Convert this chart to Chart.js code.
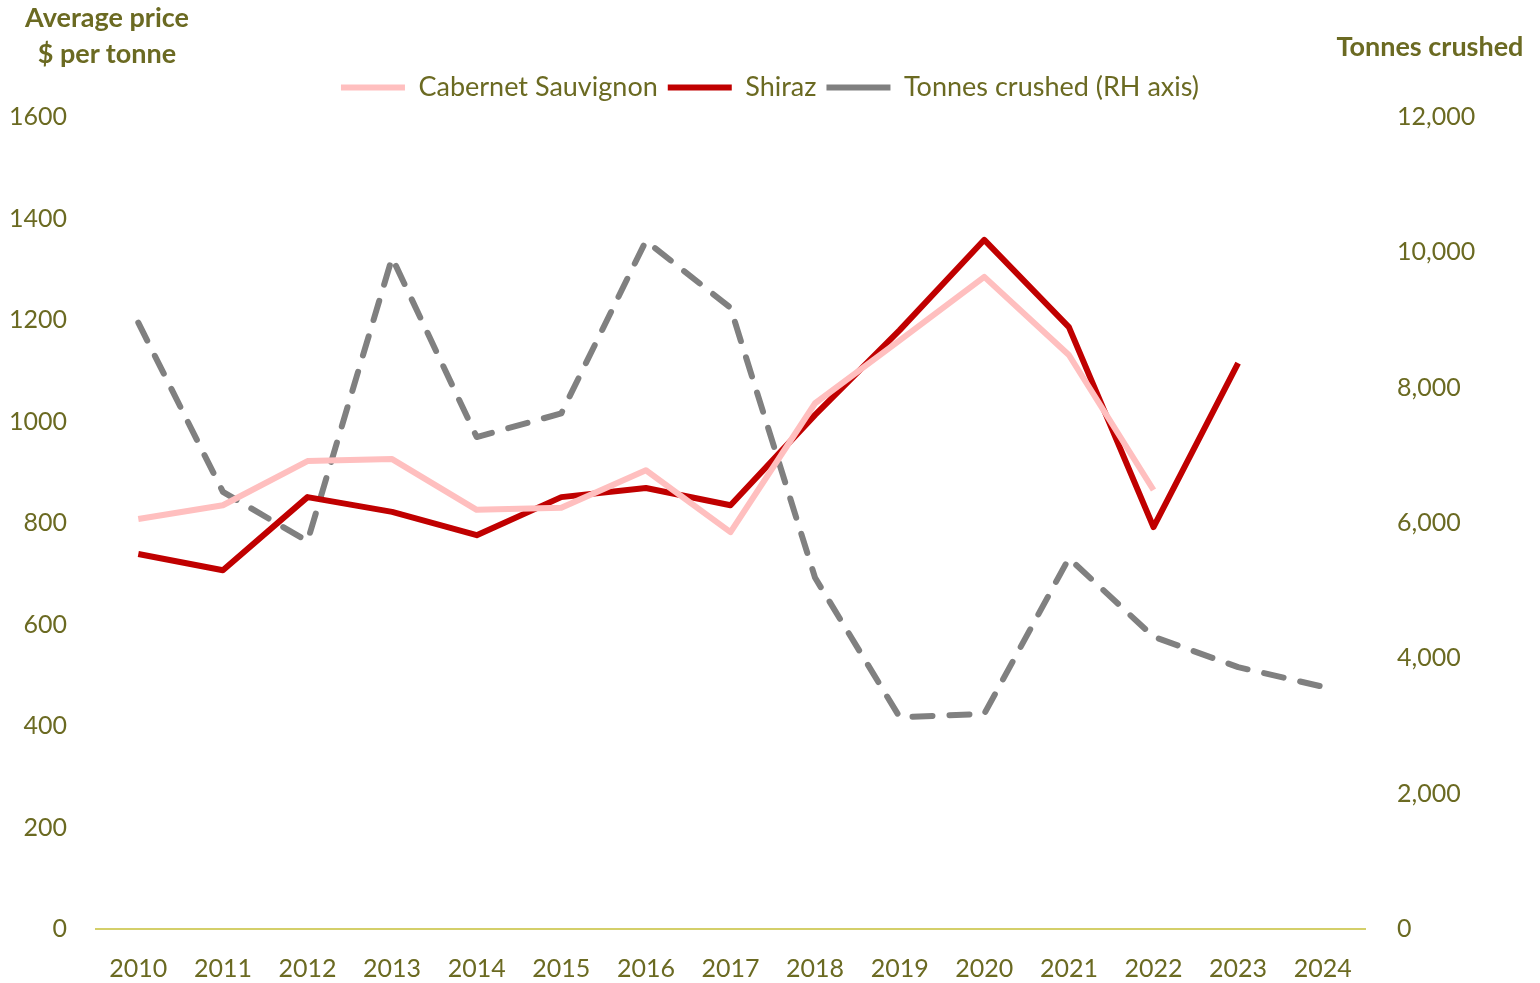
<!DOCTYPE html>
<html>
<head>
<meta charset="utf-8">
<script src="https://cdn.jsdelivr.net/npm/chart.js@4.4.1/dist/chart.umd.min.js"></script>
<style>
  body { margin: 0; background: #fff; }
  #wrap { position: relative; width: 1540px; height: 983px; }
  .ttl { position: absolute; font-family: Lato, sans-serif; font-weight: bold; font-size: 27px; color: #6b6a22; text-align: center; line-height: 36px; }
</style>
</head>
<body>
<div id="wrap">
  <canvas id="lineChart"></canvas>
  <div class="ttl" style="left:0; top:-1px; width:214px;">Average price<br>$ per tonne</div>
  <div class="ttl" style="left:1320px; top:28px; width:220px;">Tonnes crushed</div>
</div>
<script>
// années
const years = ['2010','2011','2012','2013','2014','2015','2016','2017','2018','2019','2020','2021','2022','2023','2024'];

// prix moyen $ par tonne
const cabernet = [808, 835, 922, 926, 826, 830, 904, 782, 1036, 1160, 1285, 1131, 865, null, null];
const shiraz = [739, 707, 851, 822, 776, 851, 869, 835, 1013, 1180, 1358, 1186, 792, 1115, null];

// tonnes broyées (axe de droite)
const tonnes = [8960, 6460, 5730, 9920, 7270, 7620, 10170, 9180, 5190, 3130, 3180, 5480, 4320, 3870, 3580];

const olive = '#6b6a22';
const tickFont = { family: 'Lato', size: 25 };

// un peu plus d'espace sous la légende
const legendGap = {
    id: 'legendGap',
    afterInit(chart) {
        const fit = chart.legend.fit;
        chart.legend.fit = function () {
            fit.call(this);
            this.height += 6;
        };
    }
};

function loadLineChart() {
    let ctx = document.getElementById('lineChart').getContext('2d');
    return new Chart(ctx, {
        type: 'line',
        plugins: [legendGap],
        data: {
            labels: years,
            datasets: [{
                label: 'Cabernet Sauvignon',
                data: cabernet,
                borderColor: '#ffbfbf',
                backgroundColor: '#ffbfbf',
                borderWidth: 6,
                yAxisID: 'y'
            }, {
                label: 'Shiraz',
                data: shiraz,
                borderColor: '#c00000',
                backgroundColor: '#c00000',
                borderWidth: 6,
                yAxisID: 'y'
            }, {
                label: 'Tonnes crushed (RH axis)',
                data: tonnes,
                borderColor: '#808080',
                backgroundColor: '#808080',
                borderWidth: 6,
                borderDash: [20, 17],
                borderCapStyle: 'round',
                yAxisID: 'y1'
            }]
        },
        options: {
            responsive: true,
            maintainAspectRatio: false,
            animation: false,
            elements: { point: { radius: 0 }, line: { tension: 0, borderJoinStyle: 'round' } },
            layout: { padding: { top: 64 } },
            plugins: {
                tooltip: { enabled: false },
                legend: {
                    position: 'top',
                    labels: {
                        color: olive,
                        font: { family: 'Lato', size: 27 },
                        usePointStyle: true,
                        pointStyle: 'line',
                        pointStyleWidth: 64,
                        boxWidth: 64,
                        boxHeight: 6,
                        padding: 10
                    }
                }
            },
            scales: {
                x: {
                    offset: true,
                    grid: { display: false },
                    border: { color: '#d4cf6a', width: 2 },
                    ticks: { color: olive, font: tickFont, padding: 17, maxRotation: 0 },
                    afterFit: function (scale) { scale.height = 54; }
                },
                y: {
                    position: 'left',
                    min: 0, max: 1600,
                    grid: { display: false },
                    border: { display: false },
                    ticks: {
                        stepSize: 200, color: olive, font: tickFont, padding: 21,
                        callback: function (v) { return String(v); }
                    },
                    afterFit: function (scale) { scale.width = 96; }
                },
                y1: {
                    position: 'right',
                    min: 0, max: 12000,
                    grid: { display: false },
                    border: { display: false },
                    ticks: {
                        stepSize: 2000, color: olive, font: tickFont, padding: 24,
                        callback: function (v) { return v.toLocaleString('en-US'); }
                    },
                    afterFit: function (scale) { scale.width = 175; }
                }
            }
        }
    });
}

let chart = loadLineChart();
</script>
</body>
</html>
